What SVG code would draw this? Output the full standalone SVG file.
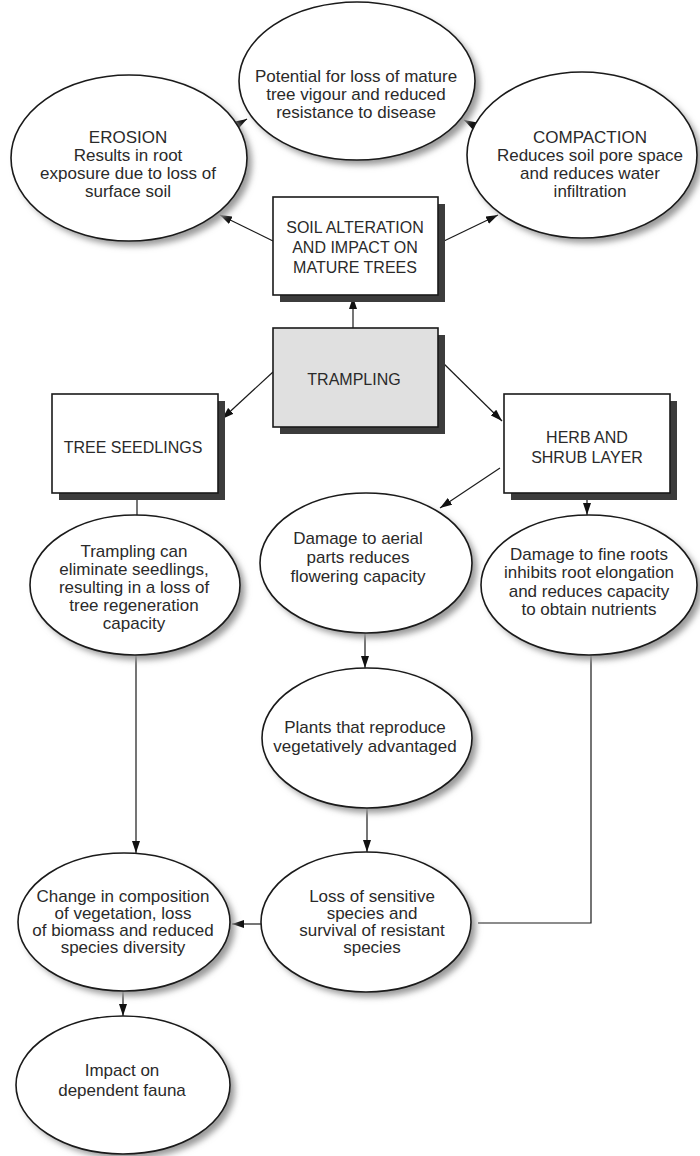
<svg xmlns="http://www.w3.org/2000/svg" width="700" height="1156" viewBox="0 0 700 1156">
<defs>
<style>
.el{fill:#fff;stroke:#1a1a1a;stroke-width:1.6}
.esh{fill:#9a9a9a;filter:url(#blur)}
.bx{fill:#fff;stroke:#1a1a1a;stroke-width:1.6}
.bxg{fill:#e0e0e0;stroke:#1a1a1a;stroke-width:1.6}
.bsh{fill:#3c3c3c}
.t{font-family:"Liberation Sans",Arial,Helvetica,sans-serif;font-size:17px;fill:#2a2a2a;text-anchor:middle}
.tb{font-family:"Liberation Sans",Arial,Helvetica,sans-serif;font-size:16px;fill:#2a2a2a;text-anchor:middle}
.c{fill:none;stroke:#1a1a1a;stroke-width:1.2}
.a{marker-end:url(#ah)}
</style>
<filter id="blur" x="-10%" y="-10%" width="120%" height="120%"><feGaussianBlur stdDeviation="3"/></filter>
<marker id="ah" viewBox="0 0 12 8" refX="12" refY="4" markerWidth="12" markerHeight="8" markerUnits="userSpaceOnUse" orient="auto"><path d="M0,0 L12,4 L0,8 z" fill="#111"/></marker>
</defs>
<rect width="700" height="1156" fill="#fff"/>

<g id="connectors">
<line class="c a" x1="273" y1="241" x2="220" y2="215"/>
<line class="c a" x1="444" y1="241" x2="498" y2="215"/>
<line class="c a" x1="230" y1="129" x2="247" y2="119"/>
<line class="c a" x1="482" y1="130" x2="464" y2="120"/>
<line class="c a" x1="353" y1="328" x2="353" y2="297"/>
<line class="c a" x1="273" y1="372" x2="222" y2="419"/>
<line class="c a" x1="438" y1="358" x2="502" y2="421"/>
<line class="c a" x1="500" y1="468" x2="440" y2="508"/>
<line class="c a" x1="587" y1="497" x2="587" y2="515"/>
<line class="c" x1="137" y1="497" x2="137" y2="515"/>
<line class="c a" x1="136" y1="655" x2="136" y2="853"/>
<line class="c a" x1="365" y1="633" x2="365" y2="668"/>
<line class="c a" x1="367" y1="808" x2="367" y2="852"/>
<polyline class="c" points="591,655 591,923 478,923"/>
<line class="c a" x1="261" y1="924" x2="232" y2="924"/>
<line class="c a" x1="123" y1="991" x2="123" y2="1016"/>
</g>

<g id="n-potential">
<ellipse class="esh" cx="362" cy="86" rx="118" ry="79"/>
<ellipse class="el" cx="357" cy="81" rx="118" ry="79"/>
<text class="t" x="356" y="82">Potential for loss of mature</text>
<text class="t" x="356" y="100">tree vigour and reduced</text>
<text class="t" x="356" y="118">resistance to disease</text>
</g>

<g id="n-erosion">
<ellipse class="esh" cx="134" cy="163" rx="118" ry="83"/>
<ellipse class="el" cx="129" cy="158" rx="118" ry="83"/>
<text class="t" x="128" y="143">EROSION</text>
<text class="t" x="128" y="161">Results in root</text>
<text class="t" x="128" y="179">exposure due to loss of</text>
<text class="t" x="128" y="197">surface soil</text>
</g>

<g id="n-compaction">
<ellipse class="esh" cx="587" cy="160" rx="115" ry="83"/>
<ellipse class="el" cx="582" cy="155" rx="115" ry="83"/>
<text class="t" x="590" y="143">COMPACTION</text>
<text class="t" x="590" y="161">Reduces soil pore space</text>
<text class="t" x="590" y="179">and reduces water</text>
<text class="t" x="590" y="197">infiltration</text>
</g>

<g id="n-soil">
<rect class="bsh" x="280" y="204" width="165" height="98"/>
<rect class="bx" x="273" y="197" width="165" height="98"/>
<text class="tb" x="355" y="233">SOIL ALTERATION</text>
<text class="tb" x="355" y="253">AND IMPACT ON</text>
<text class="tb" x="355" y="273">MATURE TREES</text>
</g>

<g id="n-trampling">
<rect class="bsh" x="280" y="335" width="165" height="99"/>
<rect class="bxg" x="273" y="328" width="165" height="99"/>
<text class="tb" x="354" y="385">TRAMPLING</text>
</g>

<g id="n-seedlings">
<rect class="bsh" x="59" y="401" width="166" height="99"/>
<rect class="bx" x="52" y="394" width="166" height="99"/>
<text class="tb" x="133" y="453">TREE SEEDLINGS</text>
</g>

<g id="n-herb">
<rect class="bsh" x="511" y="401" width="166" height="99"/>
<rect class="bx" x="504" y="394" width="166" height="99"/>
<text class="tb" x="587" y="443">HERB AND</text>
<text class="tb" x="587" y="463">SHRUB LAYER</text>
</g>

<g id="n-eliminate">
<ellipse class="esh" cx="140" cy="590" rx="105" ry="70"/>
<ellipse class="el" cx="135" cy="585" rx="105" ry="70"/>
<text class="t" x="134" y="557">Trampling can</text>
<text class="t" x="134" y="575">eliminate seedlings,</text>
<text class="t" x="134" y="593">resulting in a loss of</text>
<text class="t" x="134" y="611">tree regeneration</text>
<text class="t" x="134" y="629">capacity</text>
</g>

<g id="n-aerial">
<ellipse class="esh" cx="371" cy="568" rx="106" ry="70"/>
<ellipse class="el" cx="366" cy="563" rx="106" ry="70"/>
<text class="t" x="358" y="544">Damage to aerial</text>
<text class="t" x="358" y="563">parts reduces</text>
<text class="t" x="358" y="582">flowering capacity</text>
</g>

<g id="n-roots">
<ellipse class="esh" cx="594" cy="590" rx="108" ry="70"/>
<ellipse class="el" cx="589" cy="585" rx="108" ry="70"/>
<text class="t" x="589" y="560">Damage to fine roots</text>
<text class="t" x="589" y="578">inhibits root elongation</text>
<text class="t" x="589" y="597">and reduces capacity</text>
<text class="t" x="589" y="615">to obtain nutrients</text>
</g>

<g id="n-plants">
<ellipse class="esh" cx="372" cy="743" rx="105" ry="70"/>
<ellipse class="el" cx="367" cy="738" rx="105" ry="70"/>
<text class="t" x="365" y="733">Plants that reproduce</text>
<text class="t" x="365" y="752">vegetatively advantaged</text>
</g>

<g id="n-loss">
<ellipse class="esh" cx="371" cy="927" rx="105" ry="70"/>
<ellipse class="el" cx="366" cy="922" rx="105" ry="70"/>
<text class="t" x="372" y="902">Loss of sensitive</text>
<text class="t" x="372" y="919">species and</text>
<text class="t" x="372" y="936">survival of resistant</text>
<text class="t" x="372" y="953">species</text>
</g>

<g id="n-change">
<ellipse class="esh" cx="129" cy="927" rx="106" ry="69"/>
<ellipse class="el" cx="124" cy="922" rx="106" ry="69"/>
<text class="t" x="123" y="902">Change in composition</text>
<text class="t" x="123" y="919">of vegetation, loss</text>
<text class="t" x="123" y="936">of biomass and reduced</text>
<text class="t" x="123" y="953">species diversity</text>
</g>

<g id="n-impact">
<ellipse class="esh" cx="128" cy="1090" rx="107" ry="69"/>
<ellipse class="el" cx="123" cy="1085" rx="107" ry="69"/>
<text class="t" x="122" y="1076">Impact on</text>
<text class="t" x="122" y="1096">dependent fauna</text>
</g>
</svg>
